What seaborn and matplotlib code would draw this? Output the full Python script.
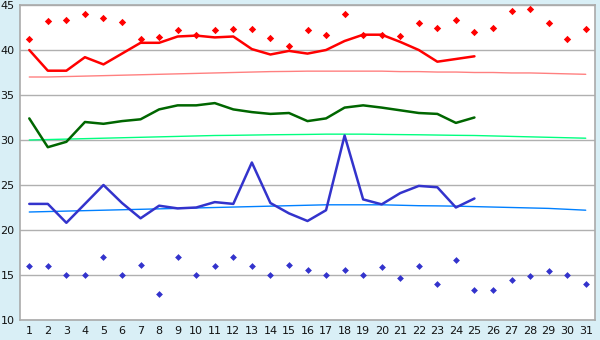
import numpy as np
import pandas as pd
import matplotlib
matplotlib.use("Agg")
import matplotlib.pyplot as plt
import seaborn as sns

# days of the month
days = list(range(1, 32))
line_days = list(range(1, 26))

# red series
red_points = [41.2, 43.2, 43.3, 44.0, 43.6, 43.1, 41.2, 41.5, 42.2, 41.7,
              42.2, 42.3, 42.3, 41.3, 40.5, 42.2, 41.7, 44.0, 41.7, 41.7,
              41.6, 43.0, 42.4, 43.3, 42.0, 42.5, 44.3, 44.6, 43.0, 41.2, 42.3]
red_line = [40.0, 37.7, 37.7, 39.2, 38.4, 39.6, 40.8, 40.8, 41.5, 41.6,
            41.4, 41.5, 40.1, 39.5, 39.9, 39.6, 40.0, 41.0, 41.7, 41.7,
            40.9, 40.0, 38.7, 39.0, 39.3]
red_trend = [37.0, 37.0, 37.05, 37.1, 37.15, 37.2, 37.25, 37.3, 37.35, 37.4,
             37.45, 37.5, 37.55, 37.6, 37.62, 37.65, 37.65, 37.65, 37.65, 37.65,
             37.6, 37.6, 37.55, 37.55, 37.5, 37.5, 37.45, 37.45, 37.4, 37.35, 37.3]

# green series
green_line = [32.4, 29.2, 29.8, 32.0, 31.8, 32.1, 32.3, 33.4, 33.85, 33.85,
              34.1, 33.4, 33.1, 32.9, 33.0, 32.1, 32.4, 33.6, 33.85, 33.6,
              33.3, 33.0, 32.9, 31.9, 32.5]
green_trend = [30.0, 30.05, 30.1, 30.15, 30.2, 30.25, 30.3, 30.35, 30.4, 30.45,
               30.5, 30.52, 30.55, 30.58, 30.6, 30.62, 30.65, 30.65, 30.65, 30.62,
               30.6, 30.58, 30.55, 30.52, 30.5, 30.45, 30.4, 30.35, 30.3, 30.25, 30.2]

# blue series
blue_line = [22.9, 22.9, 20.8, 22.9, 25.0, 23.0, 21.3, 22.7, 22.4, 22.5,
             23.1, 22.9, 27.5, 23.0, 21.85, 21.0, 22.2, 30.5, 23.4, 22.85,
             24.1, 24.9, 24.75, 22.5, 23.5]
blue_trend = [22.0, 22.05, 22.1, 22.15, 22.2, 22.25, 22.3, 22.35, 22.4, 22.45,
              22.5, 22.55, 22.6, 22.65, 22.7, 22.75, 22.8, 22.8, 22.8, 22.8,
              22.75, 22.7, 22.68, 22.65, 22.6, 22.55, 22.5, 22.45, 22.4, 22.3, 22.2]
blue_points = [16.0, 16.0, 15.0, 15.0, 17.0, 15.0, 16.1, 12.85, 17.0, 15.0,
               16.0, 17.0, 16.0, 15.0, 16.1, 15.6, 15.0, 15.6, 15.0, 15.85,
               14.65, 16.0, 14.0, 16.7, 13.3, 13.3, 14.4, 14.85, 15.4, 15.0, 14.0]

full = pd.DataFrame({"day": days, "red_pts": red_points, "red_tr": red_trend,
                     "green_tr": green_trend, "blue_tr": blue_trend,
                     "blue_pts": blue_points})
part = pd.DataFrame({"day": line_days, "red": red_line, "green": green_line,
                     "blue": blue_line})

sns.set_style("white")
plt.rcParams["font.family"] = ["DejaVu Sans"]

fig = plt.figure(figsize=(6, 3.4), dpi=100, facecolor="#d9eff6")
ax = fig.add_axes([20 / 600, 20 / 340, 575 / 600, 315 / 340])
ax.set_facecolor("white")

# trend lines
sns.lineplot(data=full, x="day", y="red_tr", color="#ff8080", linewidth=1, ax=ax)
sns.lineplot(data=full, x="day", y="green_tr", color="#00ff80", linewidth=1, ax=ax)
sns.lineplot(data=full, x="day", y="blue_tr", color="#0080ff", linewidth=1, ax=ax)

# main lines
sns.lineplot(data=part, x="day", y="red", color="#ff0000", linewidth=1.8, ax=ax)
sns.lineplot(data=part, x="day", y="green", color="#006600", linewidth=1.8, ax=ax)
sns.lineplot(data=part, x="day", y="blue", color="#3333cc", linewidth=1.8, ax=ax)

# scatter points
sns.scatterplot(data=full, x="day", y="red_pts", color="#ff0000", marker="D",
                s=14, linewidth=0, ax=ax)
sns.scatterplot(data=full, x="day", y="blue_pts", color="#3333cc", marker="D",
                s=12, linewidth=0, ax=ax)

ax.set_xlim(0.5, 31.5)
ax.set_ylim(10, 45)
ax.set_xticks(days)
ax.set_yticks(range(10, 46, 5))
ax.yaxis.grid(True, color="#b0b0b0", linewidth=1)
ax.set_axisbelow(True)
ax.set_xlabel("")
ax.set_ylabel("")
for sp in ax.spines.values():
    sp.set_color("#aaaaaa")
    sp.set_linewidth(1.2)
ax.tick_params(axis="both", direction="out", length=3, width=1, color="#222222",
               labelsize=8, labelcolor="#111111", pad=1)

fig.savefig("out.png", dpi=100, facecolor=fig.get_facecolor())
